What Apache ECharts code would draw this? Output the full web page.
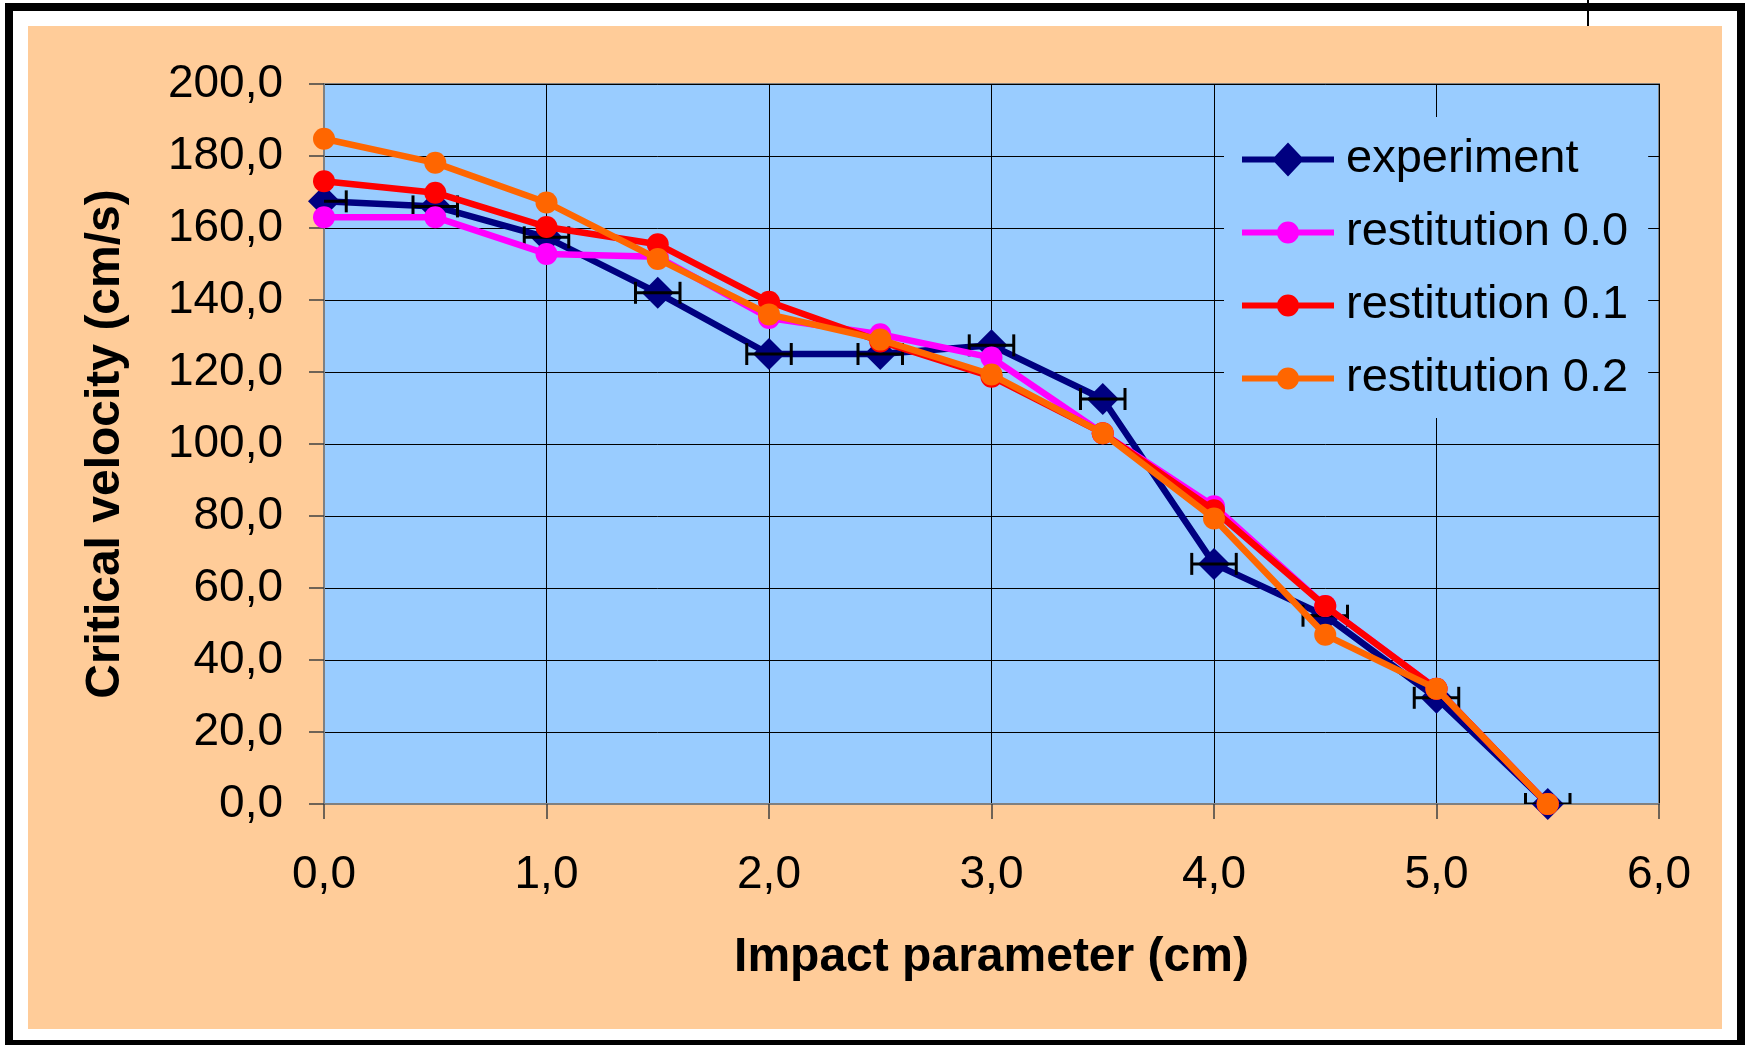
<!DOCTYPE html>
<html>
<head>
<meta charset="utf-8">
<script src="https://cdn.jsdelivr.net/npm/echarts@6/dist/echarts.min.js"></script>
<style>
  html, body { margin: 0; padding: 0; background: #ffffff; }
  #chart { width: 1751px; height: 1045px; }
</style>
</head>
<body>
<div id="chart"></div>
<script>
// ---- data ----
const impactParameter = [0, 0.5, 1.0, 1.5, 2.0, 2.5, 3.0, 3.5, 4.0, 4.5, 5.0, 5.5];
const experiment      = [167.4, 166.0, 157.4, 142.0, 125.0, 125.0, 127.4, 112.5, 66.7, 52.3, 29.5, 0];
const experimentXErr  = [0.1, 0.1, 0.1, 0.1, 0.1, 0.1, 0.1, 0.1, 0.1, 0.1, 0.1, 0.1];
const restitution00   = [163.0, 163.0, 152.8, 152.0, 135.0, 130.5, 124.0, 103.0, 82.7, 55.0, 32.0, 0];
const restitution01   = [173.0, 169.8, 160.3, 155.5, 139.5, 128.5, 118.7, 103.0, 81.6, 55.0, 32.0, 0];
const restitution02   = [184.8, 178.1, 167.1, 151.4, 136.0, 129.0, 119.3, 103.0, 79.3, 47.0, 32.0, 0];
const seriesNames = ['experiment', 'restitution 0.0', 'restitution 0.1', 'restitution 0.2'];
const xTicks = { min: 0, max: 6, interval: 1 };
const yTicks = { min: 0, max: 200, interval: 20 };

const pair = (ys) => impactParameter.map((x, i) => [x, ys[i]]);
const fmt = (v) => v.toFixed(1).replace('.', ',');
const FONT = "'Liberation Sans', Arial, sans-serif";

const diamondIcon = 'path://M0,14L92,14L92,20L0,20Z M46,0L62,17L46,34L30,17Z';
const circleIcon  = 'path://M0,14L92,14L92,20L0,20Z M35,17A11,11,0,1,1,57,17A11,11,0,1,1,35,17Z';

const chart = echarts.init(document.getElementById('chart'), null, { renderer: 'canvas' });

const axisCommon = {
  type: 'value',
  axisLine: { show: true, lineStyle: { color: '#808080', width: 2 } },
  axisTick: { show: true, inside: false, length: 15, lineStyle: { color: '#404040', width: 1.5 } },
  splitLine: { show: true, lineStyle: { color: '#000000', width: 1 } },
  axisLabel: { color: '#000000', fontFamily: FONT, fontSize: 46, formatter: fmt },
  nameTextStyle: { color: '#000000', fontFamily: FONT, fontSize: 48, fontWeight: 'bold' },
  nameLocation: 'middle'
};

const LW = 6.5;

chart.setOption({
  backgroundColor: '#ffffff',
  animation: false,
  graphic: [
    { type: 'rect', z: -100, silent: true,
      shape: { x: 9, y: 7, width: 1732, height: 1037 },
      style: { fill: '#ffffff', stroke: '#000000', lineWidth: 8 } },
    { type: 'rect', z: -99, silent: true,
      shape: { x: 28, y: 26, width: 1694, height: 1003 },
      style: { fill: '#FFCC99' } },
    { type: 'line', z: -98, silent: true,
      shape: { x1: 1588, y1: 0, x2: 1588, y2: 26 },
      style: { stroke: '#000000', lineWidth: 2 } }
  ],
  grid: {
    left: 324, top: 84, right: 92, bottom: 241,
    show: true, backgroundColor: '#99CCFF', borderColor: '#808080', borderWidth: 2
  },
  xAxis: Object.assign({}, axisCommon, {
    min: xTicks.min, max: xTicks.max, interval: xTicks.interval,
    name: 'Impact parameter (cm)', nameGap: 130,
    axisLabel: Object.assign({}, axisCommon.axisLabel, { margin: 48 })
  }),
  yAxis: Object.assign({}, axisCommon, {
    min: yTicks.min, max: yTicks.max, interval: yTicks.interval,
    name: 'Critical velocity (cm/s)', nameGap: 194, nameRotate: 90,
    axisLabel: Object.assign({}, axisCommon.axisLabel, { margin: 41 })
  }),
  legend: {
    orient: 'vertical', left: 1224, top: 117,
    backgroundColor: '#99CCFF',
    padding: [19, 20, 16, 18],
    itemWidth: 92, itemHeight: 34, itemGap: 26,
    align: 'left',
    itemStyle: { borderWidth: 0 },
    textStyle: { color: '#000000', fontFamily: FONT, fontSize: 47, lineHeight: 47, padding: [0, 0, 0, 7] },
    data: [
      { name: seriesNames[0], icon: diamondIcon },
      { name: seriesNames[1], icon: circleIcon },
      { name: seriesNames[2], icon: circleIcon },
      { name: seriesNames[3], icon: circleIcon }
    ]
  },
  series: [
    { name: seriesNames[0], type: 'line', z: 2, data: pair(experiment),
      color: '#000080', symbol: 'diamond', symbolSize: 32,
      lineStyle: { width: LW, color: '#000080' }, itemStyle: { color: '#000080', borderWidth: 0 } },
    { name: 'xerr', type: 'custom', z: 3, clip: true,
      data: impactParameter.map((x, i) => [x, experiment[i], experimentXErr[i]]),
      encode: { x: 0, y: 1 },
      renderItem: function (params, api) {
        const x = api.value(0), y = api.value(1), e = api.value(2);
        const p1 = api.coord([x - e, y]);
        const p2 = api.coord([x + e, y]);
        const h = 11;
        const st = { stroke: '#000000', lineWidth: 3 };
        return { type: 'group', children: [
          { type: 'line', shape: { x1: p1[0], y1: p1[1], x2: p2[0], y2: p2[1] }, style: st },
          { type: 'line', shape: { x1: p1[0], y1: p1[1] - h, x2: p1[0], y2: p1[1] + h }, style: st },
          { type: 'line', shape: { x1: p2[0], y1: p2[1] - h, x2: p2[0], y2: p2[1] + h }, style: st }
        ]};
      }
    },
    { name: seriesNames[1], type: 'line', z: 4, data: pair(restitution00),
      color: '#FF00FF', symbol: 'circle', symbolSize: 22,
      lineStyle: { width: LW, color: '#FF00FF' }, itemStyle: { color: '#FF00FF', borderWidth: 0 } },
    { name: seriesNames[2], type: 'line', z: 5, data: pair(restitution01),
      color: '#FF0000', symbol: 'circle', symbolSize: 22,
      lineStyle: { width: LW, color: '#FF0000' }, itemStyle: { color: '#FF0000', borderWidth: 0 } },
    { name: seriesNames[3], type: 'line', z: 6, data: pair(restitution02),
      color: '#FF6600', symbol: 'circle', symbolSize: 22,
      lineStyle: { width: LW, color: '#FF6600' }, itemStyle: { color: '#FF6600', borderWidth: 0 } }
  ]
});
</script>
</body>
</html>
